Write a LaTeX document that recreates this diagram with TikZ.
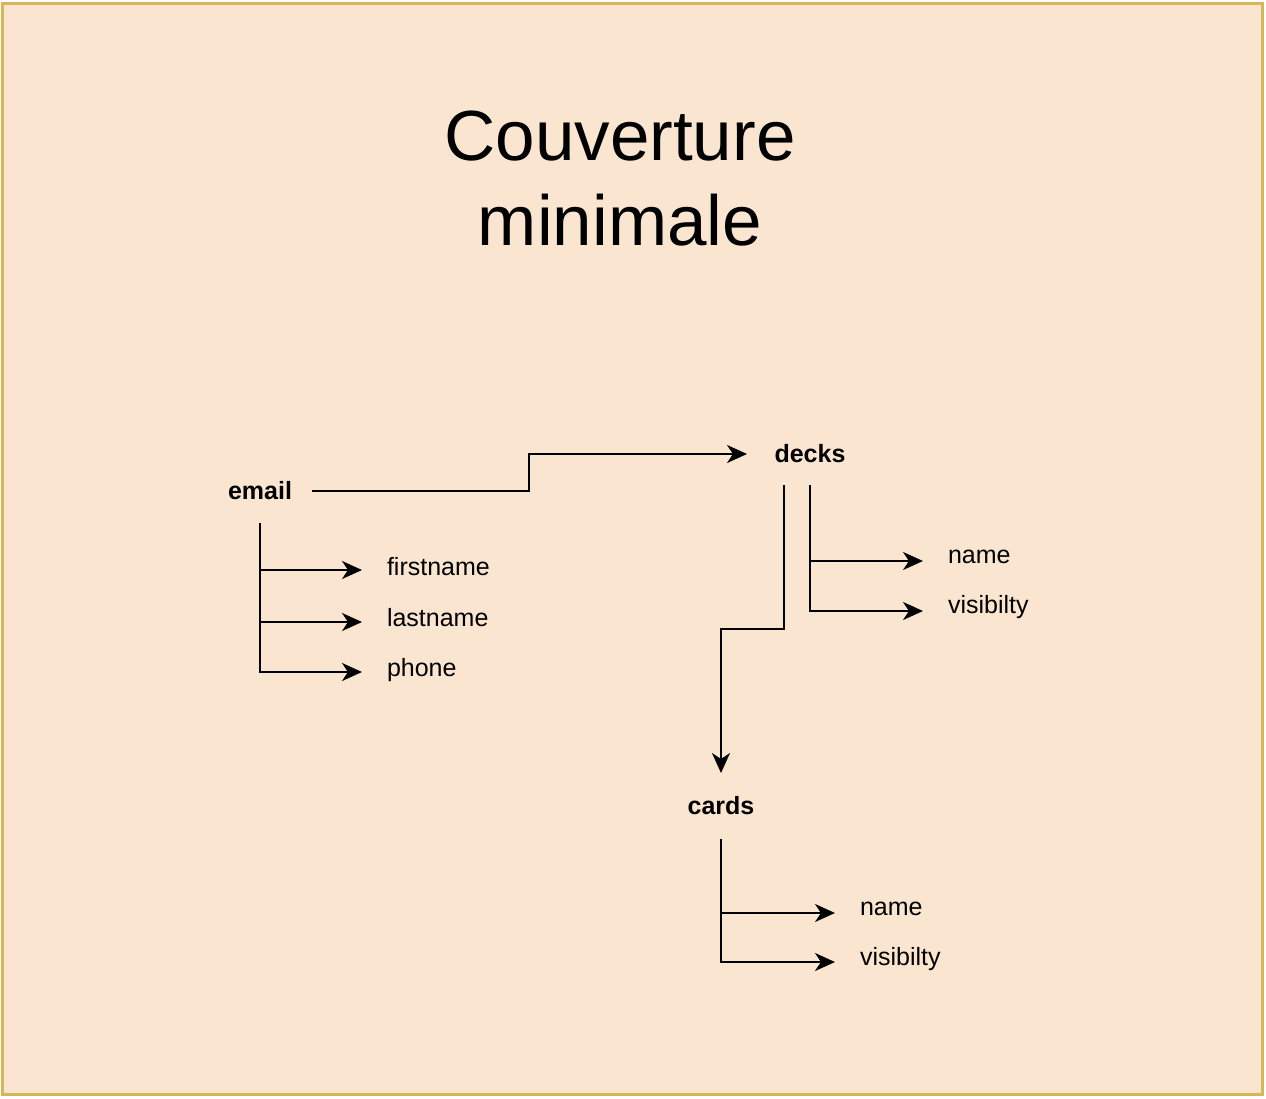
\documentclass[tikz,border=0pt]{standalone}
\usepackage{fontspec}
\setmainfont{Liberation Sans}
\usetikzlibrary{arrows.meta}
\definecolor{bgpeach}{HTML}{FAE6D0}
\definecolor{bdgold}{HTML}{D6B656}
\begin{document}
\begin{tikzpicture}[x=1pt,y=-1pt,
  arr/.style={line width=2.4pt,-{Stealth[length=20pt,width=18pt,inset=6pt]}},
  hub/.style={font=\fontsize{25}{30}\selectfont\bfseries,inner sep=0pt,outer sep=0pt},
  leaf/.style={font=\fontsize{25}{30}\selectfont,anchor=base west,inner xsep=25pt,inner ysep=0pt,outer sep=0pt}]
\useasboundingbox (0,0) rectangle (1266,1098);
\fill[white] (0,0) rectangle (1266,1098);
\draw[bdgold,fill=bgpeach,line width=3pt] (2,3) rectangle (1262,1094);
\node[font=\fontsize{71}{85}\selectfont,align=center,anchor=base] (title) at (620,245) {Couverture\\minimale};
% hubs
\node[hub,minimum width=104pt,minimum height=64pt] (email) at (260,491) {email};
\node[hub,minimum width=126pt,minimum height=62pt] (decks) at (810,454) {decks};
\node[hub,minimum width=100pt,minimum height=66pt] (cards) at (721,806) {cards};
% leaves
\node[leaf] (firstname) at (362,575) {firstname};
\node[leaf] (lastname) at (362,626) {lastname};
\node[leaf] (phone) at (362,676) {phone};
\node[leaf] (dname) at (923,563) {name};
\node[leaf] (dvis) at (923,613) {visibilty};
\node[leaf] (cname) at (835,915) {name};
\node[leaf] (cvis) at (835,965) {visibilty};
% connectors
\draw[arr] (email.east) -| ([xshift=-218pt]decks.west) -- (decks.west);
\draw[arr] (email.south) |- ([yshift=5pt]firstname.base west);
\draw[arr] (email.south) |- ([yshift=4pt]lastname.base west);
\draw[arr] (email.south) |- ([yshift=4pt]phone.base west);
\draw[arr] ([xshift=-26pt]decks.south) -- ++(0,144) -| (cards.north);
\draw[arr] (decks.south) |- ([yshift=2pt]dname.base west);
\draw[arr] (decks.south) |- ([yshift=2pt]dvis.base west);
\draw[arr] (cards.south) |- ([yshift=2pt]cname.base west);
\draw[arr] (cards.south) |- ([yshift=3pt]cvis.base west);
\end{tikzpicture}
\end{document}
